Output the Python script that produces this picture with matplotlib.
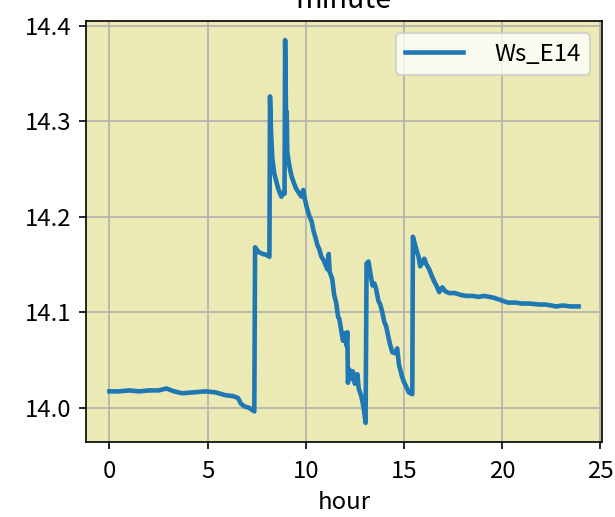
import matplotlib
matplotlib.use("Agg")
import matplotlib.pyplot as plt
from matplotlib.ticker import MultipleLocator, FormatStrFormatter

plt.rcParams["font.family"] = ["Noto Sans CJK SC", "DejaVu Sans"]
plt.rcParams["font.size"] = 11.5
plt.rcParams["axes.unicode_minus"] = False

SERIES_NAME = "Ws_E14"
TITLE = "minute"
X_LABEL = "hour"
BG_COLOR = "#ecEAb4"
LINE_COLOR = "#1f77b4"

hours = [
    0.0, 0.5, 1.0, 1.5, 2.0, 2.5, 2.9, 3.3, 3.7, 4.3, 4.9, 5.4, 5.9, 6.3, 6.55, 6.7, 6.9, 7.1, 7.38,
    7.42, 7.6, 7.8, 8.0, 8.15,
    8.18, 8.24, 8.30, 8.40, 8.50, 8.62, 8.76, 8.88, 8.92,
    8.95, 9.0, 9.03, 9.06, 9.15, 9.27, 9.40, 9.52, 9.65, 9.78, 9.88, 9.95,
    10.05, 10.18, 10.30, 10.40, 10.50, 10.60, 10.69, 10.80, 10.90, 11.00, 11.10, 11.17, 11.22,
    11.35, 11.45, 11.55, 11.65, 11.71, 11.80, 11.90, 12.00, 12.07, 12.12, 12.15, 12.22, 12.30,
    12.40, 12.50, 12.63, 12.70, 12.83, 12.95, 13.05,
    13.10, 13.2, 13.3, 13.4, 13.5, 13.59, 13.7, 13.8, 13.9, 14.0, 14.10, 14.2, 14.3, 14.41,
    14.55, 14.66, 14.75, 14.9, 15.0, 15.12, 15.25, 15.43,
    15.46, 15.55, 15.63, 15.75, 15.83, 15.95, 16.04, 16.15, 16.29, 16.42, 16.55, 16.68, 16.80,
    16.96, 17.10, 17.3, 17.6, 17.9, 18.18, 18.5, 18.8, 19.1, 19.35, 19.6, 20.01, 20.3, 20.72,
    21.0, 21.4, 21.89, 22.2, 22.5, 22.76, 23.1, 23.5, 23.9,
]
ws_e14 = [
    14.017, 14.017, 14.018, 14.017, 14.018, 14.018, 14.020, 14.017, 14.015, 14.016, 14.017, 14.016,
    14.013, 14.012, 14.010, 14.004, 14.001, 14.000, 13.996,
    14.168, 14.163, 14.161, 14.160, 14.158,
    14.326, 14.285, 14.261, 14.245, 14.237, 14.228, 14.221, 14.226, 14.224,
    14.385, 14.300, 14.310, 14.268, 14.255, 14.243, 14.235, 14.229, 14.225, 14.221, 14.228, 14.219,
    14.210, 14.201, 14.195, 14.185, 14.178, 14.170, 14.166, 14.158, 14.155, 14.150, 14.145, 14.161,
    14.142, 14.135, 14.118, 14.110, 14.095, 14.093, 14.082, 14.070, 14.078, 14.065, 14.079, 14.026,
    14.040, 14.030, 14.038, 14.025, 14.035, 14.020, 14.012, 14.000, 13.984,
    14.151, 14.153, 14.140, 14.128, 14.130, 14.124, 14.112, 14.108, 14.100, 14.090, 14.085, 14.075,
    14.066, 14.058, 14.057, 14.062, 14.045, 14.033, 14.027, 14.022, 14.016, 14.014,
    14.179, 14.172, 14.166, 14.158, 14.148, 14.152, 14.156, 14.150, 14.145, 14.138, 14.132, 14.127,
    14.121, 14.126, 14.122, 14.120, 14.120, 14.118, 14.117, 14.117, 14.116, 14.117, 14.116, 14.115,
    14.112, 14.110, 14.110, 14.109, 14.109, 14.108, 14.108, 14.107, 14.106, 14.107, 14.106, 14.106,
]

fig = plt.figure(figsize=(615 / 150, 517 / 150), dpi=150)
ax = fig.add_axes([86 / 615, 1 - 442 / 517, (602 - 86) / 615, (442 - 21) / 517])
ax.set_facecolor(BG_COLOR)

ax.plot(hours, ws_e14, color=LINE_COLOR, linewidth=2.2, label=SERIES_NAME)

ax.set_title(TITLE)
ax.set_xlabel(X_LABEL, labelpad=4)
ax.tick_params(axis="x", pad=5)
ax.yaxis.set_major_locator(MultipleLocator(0.1))
ax.yaxis.set_major_formatter(FormatStrFormatter("%.1f"))
ax.grid(True, color="#b0b0b0", linewidth=0.8)
ax.set_axisbelow(True)
ax.legend(loc="upper right", handlelength=2.4, handletextpad=1.3)

fig.savefig("out.png", dpi=150)
